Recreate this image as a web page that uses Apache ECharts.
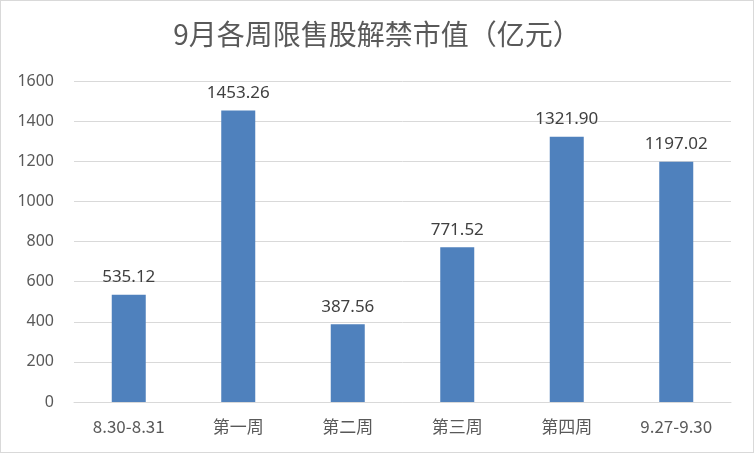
<!DOCTYPE html>
<html>
<head>
<meta charset="utf-8">
<script src="https://cdn.jsdelivr.net/npm/echarts@6/dist/echarts.min.js"></script>
<style>
  html, body { margin: 0; padding: 0; background: #fff; }
  #main { width: 754px; height: 453px; box-sizing: border-box; border: 1px solid #D9D9D9; }
</style>
</head>
<body>
<div id="main"></div>
<script>
  // 9月各周限售股解禁市值
  var weeks = ['8.30-8.31', '第一周', '第二周', '第三周', '第四周', '9.27-9.30'];
  var values = [535.12, 1453.26, 387.56, 771.52, 1321.90, 1197.02];
  var yTicks = { min: 0, max: 1600, interval: 200 };

  var myChart = echarts.init(document.getElementById('main'), null, { renderer: 'canvas' });

  myChart.setOption({
    animation: false,
    title: {
      text: '9月各周限售股解禁市值（亿元）',
      left: 'center',
      top: 14,
      textStyle: {
        fontFamily: 'Noto Sans CJK SC',
        fontSize: 28,
        fontWeight: 'normal',
        color: '#595959'
      }
    },
    grid: {
      left: 73,
      right: 22,
      top: 80,
      bottom: 50
    },
    xAxis: {
      type: 'category',
      data: weeks,
      axisTick: { show: false },
      axisLine: { lineStyle: { color: '#D9D9D9', width: 1 } },
      axisLabel: {
        margin: 16,
        fontFamily: 'Noto Sans CJK SC',
        fontSize: 17,
        color: '#595959'
      }
    },
    yAxis: {
      type: 'value',
      min: yTicks.min,
      max: yTicks.max,
      interval: yTicks.interval,
      axisLine: { show: false },
      axisTick: { show: false },
      splitLine: { lineStyle: { color: '#D9D9D9', width: 1 } },
      axisLabel: {
        margin: 20,
        fontFamily: 'Noto Sans',
        fontSize: 16,
        color: '#595959',
        formatter: function (v) {
          return String(v);
        }
      }
    },
    series: [
      {
        name: '解禁市值',
        type: 'bar',
        barWidth: 34,
        data: values,
        itemStyle: { color: '#4F81BD' },
        label: {
          show: true,
          position: 'top',
          distance: 9,
          fontFamily: 'Noto Sans',
          fontSize: 17,
          color: '#404040',
          formatter: function (p) {
            return p.value.toFixed(2);
          }
        }
      }
    ]
  });
</script>
</body>
</html>
